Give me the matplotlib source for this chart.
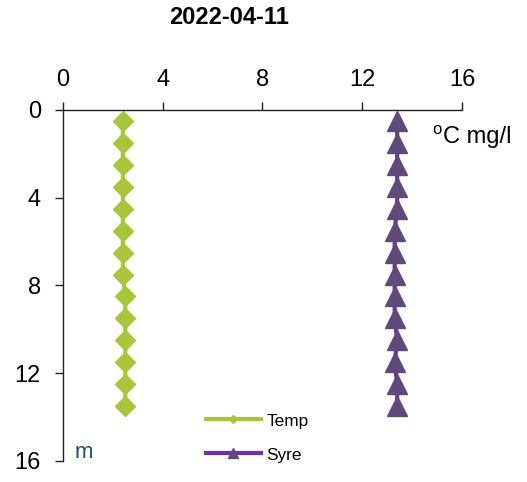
import matplotlib
matplotlib.use('Agg')
import matplotlib.pyplot as plt
from matplotlib.lines import Line2D

plt.rcParams['font.family'] = ['Liberation Sans', 'DejaVu Sans']
plt.rcParams['mathtext.fontset'] = 'custom'
plt.rcParams['mathtext.rm'] = 'Liberation Sans'

# data
depth = [0.5, 1.5, 2.5, 3.5, 4.5, 5.5, 6.5, 7.5, 8.5, 9.5, 10.5, 11.5, 12.5, 13.5]
temp = [2.4, 2.4, 2.4, 2.4, 2.4, 2.4, 2.4, 2.4, 2.5, 2.5, 2.5, 2.5, 2.5, 2.5]
syre = [13.4, 13.4, 13.4, 13.4, 13.4, 13.3, 13.3, 13.3, 13.3, 13.3, 13.4, 13.3, 13.4, 13.4]
xticks = [0, 4, 8, 12, 16]
yticks = [0, 4, 8, 12, 16]

green = '#A9C63B'
purple_line = '#7030A0'
purple_mark = '#604A7B'

fig = plt.figure(figsize=(5.27, 4.82), dpi=100)
ax = fig.add_axes([0.1195, 0.0436, 0.7572, 0.7282])

ax.plot(temp, depth, color=green, lw=3, marker='D', ms=10, mec=green, mfc=green)
ax.plot(syre, depth, color=purple_line, lw=3, marker='^', ms=15, mec=purple_mark, mfc=purple_mark)

ax.set_xlim(0, 16)
ax.set_ylim(16, 0)
ax.set_xticks(xticks)
ax.set_yticks(yticks)
ax.xaxis.tick_top()
ax.tick_params(axis='both', labelsize=17, length=6, width=1, direction='out', color='#222222')
ax.tick_params(axis='x', pad=8)
ax.tick_params(axis='y', pad=10)
ax.spines['right'].set_visible(False)
ax.spines['bottom'].set_visible(False)
for s in ['top', 'left']:
    ax.spines[s].set_color('#222222')
    ax.spines[s].set_linewidth(1)

fig.text(0.435, 0.963, '2022-04-11', ha='center', va='center', fontsize=17, fontweight='bold')
# unit label with a small raised "o"
fig.text(0.820, 0.723, 'o', ha='left', va='baseline', fontsize=12)
fig.text(0.840, 0.703, 'C mg/l', ha='left', va='baseline', fontsize=17)
fig.text(0.142, 0.05, 'm', fontsize=16, color='#1F4E79', ha='left', va='baseline')

handles = [
    Line2D([], [], color=green, lw=3, marker='D', ms=4, mec=green, mfc=green),
    Line2D([], [], color=purple_line, lw=3, marker='^', ms=7, mec=purple_mark, mfc=purple_mark),
]
fig.legend(handles, ['Temp', 'Syre'], loc='center', bbox_to_anchor=(0.488, 0.0913),
           frameon=False, fontsize=12.4, handlelength=3.2, labelspacing=1.1,
           handletextpad=0.3, borderpad=0)

fig.savefig('out.png', dpi=100)
